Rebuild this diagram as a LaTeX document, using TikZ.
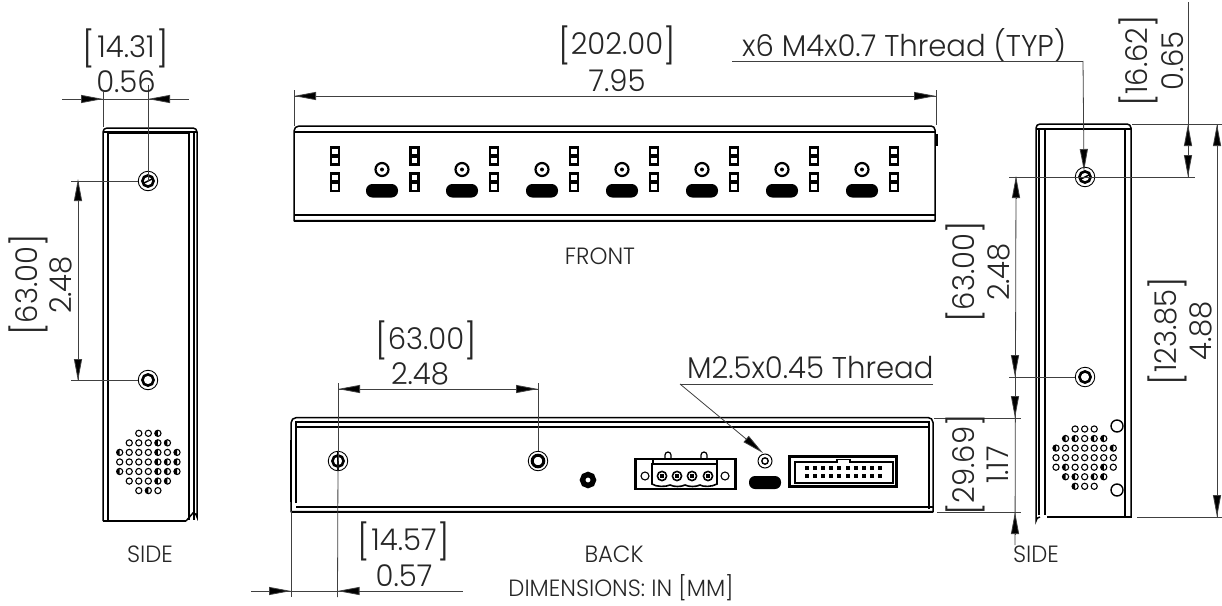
\documentclass[tikz,border=0pt]{standalone}
\usepackage{fontspec}
\setmainfont{Poppins}[UprightFont=*-Light,FakeStretch=0.97]
\usetikzlibrary{arrows.meta,calc}
\newcommand{\dimfont}{\fontsize{30}{30}\selectfont}
\newcommand{\lblfont}{\fontsize{30}{30}\selectfont}
\newcommand{\capfont}{\fontsize{23.5}{23.5}\selectfont}
\newcommand{\brk}[2][0pt]{\dimfont\raisebox{-4pt}{\fontsize{35}{35}\selectfont[}\hspace{#1}#2\hspace{#1}\raisebox{-4pt}{\fontsize{35}{35}\selectfont]}}
\tikzset{
  x=1pt,y=-1pt,
  part/.style={draw=black,line width=1.5pt},
  thin part/.style={draw=black,line width=1.1pt},
  heavy/.style={draw=black,line width=2.2pt},
  dimln/.style={draw=black!75,line width=.8pt},
  tipln/.style={draw=black!75,line width=.8pt,-{Triangle[length=22pt,width=8pt,fill=black]}},
  dimtxt/.style={inner sep=0pt,text=black!85,font=\dimfont},
  captxt/.style={inner sep=0pt,text=black!85,font=\capfont},
  hole/.style={circle,draw=black,line width=.9pt,minimum size=19.5pt,inner sep=0pt},
  fronthole/.style={circle,draw=black,line width=2.2pt,minimum size=13pt,inner sep=0pt},
}
\newcommand{\holeinner}[1]{\draw[line width=2.6pt] (#1) circle (5.6pt);}
\newcommand{\holeslash}[1]{\draw[line width=1.4pt] ($(#1)+(-5,2.5)$) -- ($(#1)+(5,-2.5)$);}
\newcommand{\frontunit}[1]{%
  \foreach \y in {147.5,156.5,173.5,183}{
    \draw[line width=2.4pt,fill=white] (#1-4,\y) rectangle (#1+4,\y+8);}
}
\newcommand{\speaker}[3]{% x of col 1, y of row 1, half-filled list
  \foreach \c/\r in {3/1,4/1,5/1,2/2,3/2,4/2,5/2,6/2,1/3,2/3,3/3,4/3,5/3,6/3,7/3,1/4,2/4,3/4,4/4,5/4,6/4,7/4,1/5,2/5,3/5,4/5,5/5,6/5,7/5,2/6,3/6,4/6,5/6,6/6,3/7,4/7,5/7}{
    \draw[line width=1.1pt,fill=white] (#1+\c*9.55-9.55,#2+\r*9.55-9.55) circle (3.1pt);}
  \foreach \c/\r in {#3}{
    \fill (#1+\c*9.55-9.55,#2+\r*9.55-9.55-3.1) arc[start angle=90,end angle=270,radius=3.1pt] -- cycle;}
}
\begin{document}
\begin{tikzpicture}
\useasboundingbox (0,0) rectangle (1222,605);
\fill[white] (0,0) rectangle (1222,605);

%% ---- left side view
\draw[part] (103,521) -- (103,132) arc[start angle=180,end angle=90,radius=4pt] -- (193,128) arc[start angle=90,end angle=0,radius=4pt] -- (197,517) arc[start angle=0,end angle=90,radius=4pt] -- (186,521);
\draw[heavy] (103,521) -- (186,521);
\draw[thin part] (108,521) -- (108,133) -- (189,133) -- (189,520);
\draw[thin part] (194,133) -- (194,520);
\draw[thin part] (103,132) -- (197,132);
\node[hole] (ltop) at (148,181) {};
\node[hole] (lbot) at (148,380) {};
\holeinner{ltop} \holeslash{ltop}
\holeinner{lbot}
\speaker{119.7}{433.3}{5/1,5/2,6/2,1/3,5/3,7/3,5/4,6/4,7/4,1/5,5/5,6/5,7/5,5/6,6/6,4/7}
\coordinate (lw1) at (103,92);
\coordinate (lw1b) at (103,127);
\coordinate (lw2) at (148,85);
\draw[dimln] (lw1) -- (lw1b);
\draw[dimln] (lw2) -- (ltop.center);
\coordinate (la) at (62,99); \coordinate (lb) at (189,99);
\draw[dimln] (la) -- (lb);
\draw[tipln] (81,99) -- (103,99);
\draw[tipln] (170,99) -- (148,99);
\node[dimtxt] (l1431) at (126,48) {\brk[2pt]{14.31}};
\node[dimtxt] (l056) at (126,82) {0.56};
\coordinate (lv1) at (71,181); \coordinate (lv2) at (71,380);
\draw[dimln] (lv1) -- (ltop);
\draw[dimln] (lv2) -- (lbot);
\draw[dimln] (78,181) -- (78,380);
\draw[tipln] (78,203) -- (78,179);
\draw[tipln] (78,358) -- (78,381);
\node[dimtxt,rotate=90] (l6300) at (28,285) {\brk{63.00}};
\node[dimtxt,rotate=90] (l248) at (61,285) {2.48};
\node[captxt] (lside) at (150,554) {SIDE};

%% ---- front view
\draw[part] (294,220.5) -- (294,131) arc[start angle=180,end angle=90,radius=5pt] -- (931,126) arc[start angle=90,end angle=0,radius=4pt] -- (935,220.5) -- cycle;
\draw[thin part] (294,132) -- (935,132);
\draw[thin part] (294,215) -- (935,215);
\draw[line width=1.8pt] (294,221) -- (935,221);
\draw[line width=1.4pt] (937,134) -- (937,146);
\foreach \x in {335,414.3,494,574,654,734,814,894}{\frontunit{\x}}
\foreach \x in {382,462,542,622,702,782,862}{
  \node[fronthole] at (\x,169.5) {};
  \fill (\x,169.5) circle (2pt);
  \fill[rounded corners=6.4pt] (\x-16,184) rectangle (\x+16,197.5);
}
\coordinate (fl) at (294,90); \coordinate (flb) at (294,126);
\coordinate (fr) at (936,90); \coordinate (frb) at (936,125);
\draw[dimln] (fl) -- (flb);
\draw[dimln] (fr) -- (frb);
\draw[dimln] (294,96) -- (936,96);
\draw[tipln] (316,96) -- (294,96);
\draw[tipln] (914,96) -- (936,96);
\node[dimtxt] (f202) at (617,45) {\brk{202.00}};
\node[dimtxt] (f795) at (617,81) {7.95};
\node[captxt] (ffront) at (600,256) {FRONT};

%% ---- back view
\draw[part] (291,511.5) -- (291,423) arc[start angle=180,end angle=90,radius=5.5pt] -- (928,417.5) arc[start angle=90,end angle=0,radius=5pt] -- (933,511.5) -- cycle;
\draw[thin part] (296,503) -- (296,422) -- (929,422) -- (929,509);
\draw[thin part] (296,427) -- (929,427);
\draw[thin part] (296,507) -- (933,507);
\draw[line width=2pt] (291,511.5) -- (933,511.5);
\draw[line width=1.8pt] (291,440) -- (291,502);
\node[hole] (bh1) at (338,461) {};
\node[hole] (bh2) at (538,461) {};
\holeinner{bh1}
\draw[thin part] (338,452) -- (338,470);
\draw[line width=3pt] (538,461) circle (5.8pt);
\draw[line width=5.4pt] (588,480) circle (5.5pt);
% power connector
\node[draw=black,line width=2.4pt,minimum width=100pt,minimum height=30pt,inner sep=0pt] (pwr) at (685.5,474) {};
\draw[line width=1.2pt] (665,459) -- (665,455) arc[start angle=180,end angle=0,radius=3pt] -- (671,459);
\draw[line width=1.2pt] (701,459) -- (701,455) arc[start angle=180,end angle=0,radius=3pt] -- (707,459);
\draw[line width=1.2pt] (653,464) -- (653,459.5) (717,464) -- (717,459.5);
\draw[line width=1.6pt] (652,464) -- (717,464) -- (717,484) .. controls (712,487) and (703,487) .. (700,485) .. controls (696,487) and (689,487) .. (685,485) .. controls (681,487) and (674,487) .. (670,485) .. controls (666,487) and (656,487) .. (652,484) -- cycle;
\draw[line width=1.1pt] (645,476) circle (4pt);
\draw[line width=1.1pt] (725,476) circle (4pt);
\foreach \x in {662,677,692,708}{
  \draw[line width=1.6pt] (\x,476) circle (4.6pt);
  \fill (\x-2,474) rectangle (\x+2,478);
}
% M2.5 hole + port
\node[circle,draw=black,line width=1pt,minimum size=14pt,inner sep=0pt] (mh) at (765,461) {};
\draw[line width=1.4pt] (765,461) circle (3.2pt);
\fill[rounded corners=6pt] (749,476) rectangle (781,489);
% idc connector
\node[draw=black,line width=2.4pt,minimum width=107pt,minimum height=30pt,inner sep=0pt] (idc) at (843,471.5) {};
\draw[line width=1.1pt] (795,462) -- (837,462) -- (837,459.5) -- (850,459.5) -- (850,462) -- (893,462) -- (893,483) -- (795,483) -- cycle;
\foreach \i in {0,...,9}{
  \fill (807+\i*8.1-2,466) rectangle (807+\i*8.1+2,470);
  \fill (807+\i*8.1-2,474) rectangle (807+\i*8.1+2,478);
}
% back dims
\coordinate (b63l) at (338,383); \coordinate (b63r) at (538,383);
\draw[dimln] (b63l) -- (bh1.center);
\draw[dimln] (b63r) -- (bh2);
\draw[dimln] (338,389) -- (538,389);
\draw[tipln] (360,389) -- (338,389);
\draw[tipln] (516,389) -- (538,389);
\node[dimtxt] (b6300) at (426,340) {\brk{63.00}};
\node[dimtxt] (b248) at (420,374) {2.48};
\coordinate (b14a) at (291,597); \coordinate (b14b) at (337.5,597);
\draw[dimln] (291,511) -- (b14a);
\draw[dimln] (bh1.center) -- (b14b);
\draw[dimln] (251,591) -- (463,591);
\draw[tipln] (270,591) -- (291,591);
\draw[tipln] (359,591) -- (337.5,591);
\node[dimtxt] (b1457) at (404,541) {\brk[1pt]{14.57}};
\node[dimtxt] (b057) at (404,576) {0.57};
\node[captxt] (bback) at (614,554) {BACK};
\node[captxt] (bdim) at (621,587.5) {DIMENSIONS: IN [MM]};
% M2.5 leader
\node[dimtxt,font=\lblfont,anchor=west] (mtxt) at (687,368) {M2.5x0.45 Thread};
\coordinate (mend) at (933,384); \coordinate (mstart) at (680,384);
\draw[dimln] (mend) -- (mstart);
\draw[tipln] (mstart) -- (763,453);

%% ---- right side view
\draw[part] (1040,517) arc[start angle=90,end angle=180,radius=4pt] -- (1036,128) arc[start angle=180,end angle=90,radius=4pt] -- (1127,124) arc[start angle=90,end angle=0,radius=4pt] -- (1131,517) -- (1047,517);
\draw[heavy] (1047,517) -- (1131,517);
\draw[thin part] (1039,129) -- (1039,515);
\draw[thin part] (1045,129) -- (1045,515);
\draw[thin part] (1125,129) -- (1125,517);
\draw[thin part] (1036,129) -- (1131,129);
\node[hole] (rtop) at (1085,177) {};
\node[hole] (rbot) at (1085,377) {};
\holeinner{rtop} \holeslash{rtop}
\holeinner{rbot}
\speaker{1056}{429}{2/2,3/2,5/2,6/2,1/3,7/3,2/5,6/5,2/6,3/6,5/6,6/6,3/7}
\draw[line width=1.4pt] (1117,426) circle (6pt);
\draw[line width=1.4pt] (1117,490) circle (6pt);
% thread callout
\node[dimtxt,font=\lblfont,anchor=west] (ttxt) at (742,45) {x6 M4x0.7 Thread (TYP)};
\coordinate (tstart) at (732,61); \coordinate (tbend) at (1083,61);
\draw[dimln] (tstart) -- (tbend);
\draw[tipln] (tbend) -- (1084,171);
% 63 right
\coordinate (rv1) at (1009,177); \coordinate (rv2) at (1009,377);
\coordinate (rvr) at (1195,177);
\draw[dimln] (rv1) -- (rvr);
\draw[dimln] (rv2) -- (rbot);
\draw[dimln] (1016,177) -- (1015,545);
\draw[tipln] (1016,198) -- (1016,176);
\draw[tipln] (1015,355) -- (1015,377);
\node[dimtxt,rotate=90] (r6300) at (965,272) {\brk{63.00}};
\node[dimtxt,rotate=90] (r248) at (999,272) {2.48};
% 29.69
\coordinate (r29a) at (934,418); \coordinate (r29ae) at (1021,418);
\coordinate (r29b) at (937,512); \coordinate (r29be) at (1021,512);
\draw[dimln] (r29a) -- (r29ae);
\draw[dimln] (r29b) -- (r29be);
\draw[tipln] (1015,396) -- (1015,418);
\draw[tipln] (1015,534) -- (1015,512);
\node[dimtxt,rotate=90] (r2969) at (965,465) {\brk{29.69}};
\node[dimtxt,rotate=90] (r117) at (998,465) {1.17};
\node[captxt] (rside) at (1036,554) {SIDE};
% 16.62
\coordinate (r16t) at (1188,2);
\draw[dimln] (r16t) -- (1188,177);
\draw[tipln] (1188,146) -- (1188,124);
\draw[tipln] (1188,155) -- (1188,177);
\coordinate (rt1) at (1132,124); \coordinate (rt2) at (1222,124);
\draw[dimln] (rt1) -- (rt2);
\node[dimtxt,rotate=90] (r1662) at (1138,61) {\brk{16.62}};
\node[dimtxt,rotate=90] (r065) at (1173,61) {0.65};
% 123.85
\coordinate (rb1) at (1137,517); \coordinate (rb2) at (1222,517);
\draw[dimln] (rb1) -- (rb2);
\draw[dimln] (1217,124) -- (1217,517);
\draw[tipln] (1217,146) -- (1217,124);
\draw[tipln] (1217,495) -- (1217,517);
\node[dimtxt,rotate=90] (r12385) at (1167,331) {\brk{123.85}};
\node[dimtxt,rotate=90] (r488) at (1201,331) {4.88};
\end{tikzpicture}
\end{document}
